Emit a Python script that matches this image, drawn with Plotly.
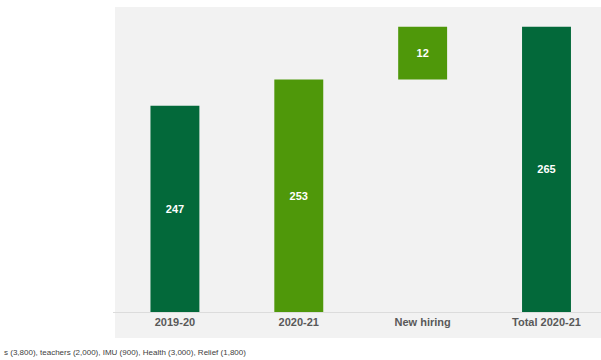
import plotly.graph_objects as go

categories = ["2019-20", "2020-21", "New hiring", "Total 2020-21"]
values = [247, 253, 12, 265]
bases = [200, 200, 253, 200]
colors = ["#03693a", "#4f980a", "#4f980a", "#03693a"]
footnote = "s (3,800), teachers (2,000), IMU (900), Health (3,000), Relief (1,800)"

ys = [v - b if b == 200 else v for v, b in zip(values, bases)]

fig = go.Figure()
fig.add_trace(go.Bar(
    x=categories, y=ys, base=bases,
    marker=dict(color=colors, line=dict(width=0)),
    text=[str(v) for v in values],
    textposition="inside", insidetextanchor="middle",
    textfont=dict(family="Arial", size=11, color="#ffffff", weight="bold"),
    width=0.395,
))

W, H = 601, 360
l, r, t, b = 113, 0, 7, 48
ph = H - t - b
fig.add_shape(type="rect", xref="paper", yref="paper",
              x0=(115 - l) / (W - l - r), x1=1.02, y0=-(338 - 312) / ph, y1=1,
              fillcolor="#f2f2f2", line=dict(width=0), layer="below")

fig.add_annotation(text=footnote, xref="paper", yref="paper",
                   x=-(l - 2) / (W - l - r), y=-(352 - 312) / ph,
                   xanchor="left", yanchor="middle", showarrow=False,
                   font=dict(family="Arial", size=8, color="#404040"))

fig.update_layout(
    width=W, height=H,
    margin=dict(l=l, r=r, t=t, b=b),
    paper_bgcolor="white", plot_bgcolor="rgba(0,0,0,0)",
    showlegend=False,
    xaxis=dict(range=[-0.5, 3.44], showgrid=False, showline=True,
               linecolor="#dcdcdc", linewidth=1, ticks="",
               tickfont=dict(family="Arial", size=11, color="#595959", weight="bold")),
    yaxis=dict(range=[200, 269.5], showgrid=False, showticklabels=False,
               zeroline=False, showline=False),
)
fig.write_html("out.html")
